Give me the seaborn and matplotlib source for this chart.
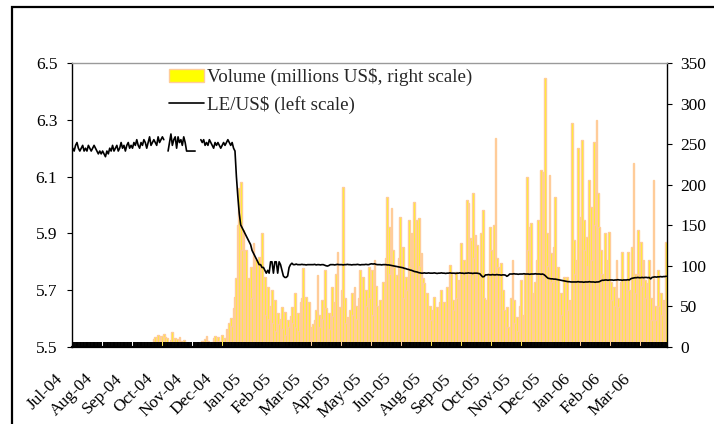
import matplotlib
matplotlib.use("Agg")
import numpy as np
import pandas as pd
import matplotlib.pyplot as plt
import matplotlib.transforms as mtransforms
from matplotlib.patches import Patch, Rectangle
from matplotlib.lines import Line2D
import seaborn as sns

nan = float("nan")

# --- Data: one block of 21 trading days per axis label ---
MONTH_LABELS = ["Jul-04", "Aug-04", "Sep-04", "Oct-04", "Nov-04", "Dec-04",
                "Jan-05", "Feb-05", "Mar-05", "Apr-05", "May-05", "Jun-05",
                "Aug-05", "Sep-05", "Oct-05", "Nov-05", "Dec-05", "Jan-06",
                "Feb-06", "Mar-06"]
DAYS_PER_LABEL = 21

# daily volume, millions US$ (right scale)
vol_jul04 = [0, 0, 0, 0, 0, 0, 0, 0, 0, 0, 0, 0, 0, 0, 0, 0, 0, 0, 0, 0, 0]
vol_aug04 = [0, 0, 0, 0, 0, 0, 0, 0, 0, 0, 0, 0, 0, 0, 0, 0, 0, 0, 0, 0, 0]
vol_sep04 = [0, 0, 0, 0, 0, 0, 0, 0, 0, 0, 0, 0, 0, 5, 0, 10, 12, 8, 15, 14, 6]
vol_oct04 = [13, 16, 12, 11, 4, 0, 9, 18, 8, 11, 10, 6, 12, 8, 5, 9, 4, 0, 0, 0, 0]
vol_nov04 = [0, 0, 0, 0, 0, 0, 3, 8, 5, 10, 13, 7, 4, 0, 6, 11, 14, 9, 12, 7, 5]
vol_dec04 = [15, 4, 11, 22, 18, 30, 36, 26, 48, 62, 85, 150, 196, 203, 120, 144, 90, 120, 70, 85, 99]
vol_jan05 = [60, 128, 75, 107, 80, 111, 65, 140, 55, 86, 40, 74, 35, 50, 70, 30, 58, 20, 42, 28, 35]
vol_feb05 = [49, 22, 43, 15, 33, 25, 38, 49, 30, 67, 25, 42, 20, 55, 60, 97, 45, 62, 30, 55, 25]
vol_mar05 = [18, 28, 33, 45, 89, 40, 25, 58, 35, 95, 48, 30, 42, 22, 74, 38, 55, 90, 117, 45, 49]
vol_apr05 = [70, 197, 60, 30, 37, 20, 45, 67, 40, 74, 50, 35, 60, 95, 55, 86, 45, 70, 50, 99, 60]
vol_may05 = [95, 40, 107, 75, 50, 30, 58, 45, 80, 60, 110, 185, 148, 90, 171, 120, 99, 70, 89, 110, 160]
vol_jun05 = [95, 123, 60, 86, 70, 157, 100, 140, 120, 179, 130, 157, 159, 100, 116, 85, 79, 55, 67, 40, 50]
vol_aug05 = [33, 45, 62, 35, 49, 30, 55, 70, 40, 55, 30, 74, 50, 101, 91, 58, 46, 93, 60, 83, 70]
vol_sep05 = [128, 90, 107, 104, 181, 178, 134, 132, 190, 110, 138, 126, 91, 70, 140, 169, 60, 42, 58, 90, 148]
vol_oct05 = [120, 80, 150, 258, 110, 99, 60, 104, 70, 46, 30, 49, 25, 15, 60, 107, 58, 30, 37, 20, 50]
vol_nov05 = [83, 40, 37, 90, 210, 120, 148, 153, 67, 45, 80, 107, 157, 90, 218, 216, 120, 332, 140, 100, 212]
vol_dec05 = [116, 80, 123, 185, 90, 99, 50, 67, 40, 86, 0, 86, 45, 58, 40, 276, 132, 90, 107, 245, 123]
vol_jan06 = [160, 255, 157, 120, 136, 100, 206, 173, 107, 253, 150, 280, 190, 148, 120, 90, 86, 140, 70, 107, 142]
vol_feb06 = [80, 58, 74, 50, 107, 60, 49, 80, 117, 60, 83, 50, 117, 70, 45, 123, 227, 90, 67, 144, 90]
vol_mar06 = [130, 75, 107, 83, 60, 79, 107, 60, 33, 206, 50, 33, 95, 50, 67, 40, 58, 30, 130]

# LE/US$ exchange rate (left scale), nan = no quote
rate_jul04 = [6.20, 6.19, 6.21, 6.22, 6.20, 6.19, 6.20, 6.21, 6.19, 6.20, 6.19, 6.21, 6.20, 6.19, 6.20, 6.21, 6.20, 6.19, 6.18, 6.19, 6.18]
rate_aug04 = [6.19, 6.18, 6.17, 6.19, 6.18, 6.20, 6.19, 6.21, 6.19, 6.20, 6.21, 6.19, 6.20, 6.22, 6.20, 6.21, 6.19, 6.21, 6.22, 6.20, 6.21]
rate_sep04 = [6.20, 6.22, 6.21, 6.23, 6.21, 6.20, 6.22, 6.21, 6.23, 6.22, 6.20, 6.22, 6.24, 6.21, 6.22, 6.23, 6.22, 6.21, 6.24, 6.22, 6.23]
rate_oct04 = [6.24, 6.23, nan, nan, 6.19, 6.22, 6.25, 6.21, 6.23, 6.24, 6.20, 6.24, 6.22, 6.23, 6.21, 6.24, 6.22, 6.19, 6.19, 6.19, 6.19]
rate_nov04 = [6.19, 6.19, 6.19, nan, nan, nan, 6.23, 6.22, 6.23, 6.21, 6.22, 6.21, 6.23, 6.22, 6.21, 6.20, 6.22, 6.21, 6.22, 6.21, 6.20]
rate_dec04 = [6.21, 6.22, 6.21, 6.22, 6.23, 6.22, 6.21, 6.22, 6.20, 6.19, 6.10, 6.03, 5.97, 5.93, 5.92, 5.91, 5.90, 5.89, 5.88, 5.87, 5.86]
rate_jan05 = [5.84, 5.83, 5.82, 5.81, 5.80, 5.79, 5.79, 5.78, 5.78, 5.77, 5.76, 5.77, 5.76, 5.80, 5.80, 5.76, 5.80, 5.80, 5.76, 5.80, 5.79]
rate_feb05 = [5.77, 5.75, 5.745, 5.745, 5.75, 5.78, 5.79, 5.795, 5.79, 5.79, 5.792, 5.79, 5.79, 5.79, 5.791, 5.79, 5.79, 5.789, 5.79, 5.79, 5.79]
rate_mar05 = [5.79, 5.79, 5.791, 5.789, 5.79, 5.79, 5.789, 5.79, 5.79, 5.788, 5.786, 5.785, 5.787, 5.79, 5.79, 5.79, 5.789, 5.79, 5.791, 5.79, 5.79]
rate_apr05 = [5.79, 5.789, 5.79, 5.79, 5.791, 5.79, 5.79, 5.789, 5.79, 5.79, 5.79, 5.791, 5.79, 5.789, 5.79, 5.79, 5.79, 5.791, 5.79, 5.79, 5.792]
rate_may05 = [5.793, 5.792, 5.793, 5.791, 5.79, 5.79, 5.79, 5.789, 5.79, 5.79, 5.79, 5.789, 5.789, 5.788, 5.787, 5.786, 5.785, 5.784, 5.783, 5.782, 5.781]
rate_jun05 = [5.78, 5.779, 5.777, 5.776, 5.774, 5.773, 5.771, 5.77, 5.768, 5.766, 5.765, 5.764, 5.762, 5.761, 5.76, 5.76, 5.761, 5.76, 5.76, 5.761, 5.76]
rate_aug05 = [5.76, 5.76, 5.761, 5.76, 5.759, 5.76, 5.76, 5.761, 5.76, 5.76, 5.759, 5.76, 5.76, 5.761, 5.76, 5.76, 5.76, 5.759, 5.76, 5.76, 5.761]
rate_sep05 = [5.76, 5.76, 5.759, 5.76, 5.76, 5.761, 5.76, 5.76, 5.759, 5.76, 5.76, 5.76, 5.759, 5.758, 5.752, 5.747, 5.748, 5.754, 5.754, 5.755, 5.754]
rate_oct05 = [5.754, 5.755, 5.754, 5.754, 5.755, 5.754, 5.754, 5.753, 5.754, 5.754, 5.753, 5.749, 5.752, 5.757, 5.757, 5.757, 5.758, 5.757, 5.757, 5.756, 5.757]
rate_nov05 = [5.757, 5.757, 5.758, 5.757, 5.757, 5.757, 5.756, 5.757, 5.757, 5.757, 5.758, 5.757, 5.757, 5.757, 5.756, 5.757, 5.755, 5.751, 5.746, 5.742, 5.741]
rate_dec05 = [5.74, 5.74, 5.739, 5.739, 5.738, 5.737, 5.736, 5.735, 5.734, 5.733, 5.732, 5.731, 5.73, 5.73, 5.729, 5.729, 5.729, 5.729, 5.729, 5.73, 5.729]
rate_jan06 = [5.729, 5.729, 5.728, 5.729, 5.729, 5.729, 5.73, 5.729, 5.729, 5.729, 5.728, 5.729, 5.729, 5.73, 5.733, 5.735, 5.735, 5.736, 5.736, 5.735, 5.736]
rate_feb06 = [5.736, 5.736, 5.735, 5.736, 5.736, 5.737, 5.736, 5.736, 5.735, 5.736, 5.736, 5.736, 5.737, 5.736, 5.74, 5.742, 5.743, 5.744, 5.744, 5.745, 5.744]
rate_mar06 = [5.744, 5.745, 5.744, 5.745, 5.745, 5.744, 5.745, 5.74, 5.745, 5.746, 5.747, 5.746, 5.747, 5.747, 5.748, 5.747, 5.748, 5.748, 5.749]

volume = (vol_jul04 + vol_aug04 + vol_sep04 + vol_oct04 + vol_nov04 + vol_dec04
          + vol_jan05 + vol_feb05 + vol_mar05 + vol_apr05 + vol_may05 + vol_jun05
          + vol_aug05 + vol_sep05 + vol_oct05 + vol_nov05 + vol_dec05
          + vol_jan06 + vol_feb06 + vol_mar06)
rate = (rate_jul04 + rate_aug04 + rate_sep04 + rate_oct04 + rate_nov04 + rate_dec04
        + rate_jan05 + rate_feb05 + rate_mar05 + rate_apr05 + rate_may05 + rate_jun05
        + rate_aug05 + rate_sep05 + rate_oct05 + rate_nov05 + rate_dec05
        + rate_jan06 + rate_feb06 + rate_mar06)

df = pd.DataFrame({"day": np.arange(len(volume)), "volume": volume, "rate": rate})
# split the rate line where quotes are missing so the gaps stay open
df["segment"] = df["rate"].isna().cumsum()
n_days = len(df)

# --- Style ---
sns.set_theme(style="white")
plt.rcParams["font.family"] = ["Liberation Serif", "DejaVu Serif"]
FS = 12.5
FS_LEG = 13.7
W, H = 714, 424

fig = plt.figure(figsize=(W / 100, H / 100), dpi=100)
ax = fig.add_axes([72 / W, 77 / H, 595 / W, 284 / H])

# volume bars (right scale); neighbours overlap a little so some yellow fill shows
sns.barplot(data=df, x="day", y="volume", native_scale=True, orient="x",
            width=1.3, color="#FFFF00", saturation=1, errorbar=None,
            edgecolor="#FFCC99", linewidth=1.0, ax=ax)
ax.set_axisbelow(False)  # the dense day ticks sit on top of the bars

ax2 = ax.twinx()
sns.lineplot(data=df.dropna(subset=["rate"]), x="day", y="rate", units="segment",
             estimator=None, color="black", linewidth=1.2, ax=ax2)

ax.set_xlim(-0.5, n_days - 0.5)
ax.set_ylim(0, 350)
ax2.set_ylim(5.5, 6.5)

# axes placement: volume on right, rate on left
ax.yaxis.tick_right()
ax2.yaxis.tick_left()
ax.set_yticks(np.arange(0, 351, 50))
ax2.set_yticks([5.5, 5.7, 5.9, 6.1, 6.3, 6.5])
ax2.set_yticklabels(["5.5", "5.7", "5.9", "6.1", "6.3", "6.5"])
for a in (ax, ax2):
    a.set_xlabel("")
    a.set_ylabel("")
    a.grid(False)

ax.tick_params(axis="y", direction="out", length=3.6, width=0.8, pad=6,
               labelsize=FS, colors="black", right=True, left=False)
ax2.tick_params(axis="y", direction="out", length=3.6, width=0.8, pad=7,
                labelsize=FS, colors="black", left=True, right=False)

# category axis: tick at every day, label every 21 days
label_pos = np.arange(len(MONTH_LABELS)) * DAYS_PER_LABEL
ax.set_xticks(label_pos)
ax.set_xticklabels(MONTH_LABELS, rotation=45, ha="right", rotation_mode="anchor")
ax.set_xticks(np.arange(n_days), minor=True)
ax.tick_params(axis="x", which="major", length=0, pad=17, labelsize=FS,
               labelcolor="black", bottom=True)
ax.tick_params(axis="x", which="minor", direction="in", length=3.8,
               width=1.4, color="black", bottom=True)
offset = mtransforms.ScaledTranslation(-18 / 100, 0, fig.dpi_scale_trans)
for lbl in ax.get_xticklabels():
    lbl.set_transform(lbl.get_transform() + offset)

for s in ax.spines.values():
    s.set_visible(False)
for side in ("left", "right", "bottom"):
    ax2.spines[side].set_visible(True)
    ax2.spines[side].set_color("black")
    ax2.spines[side].set_linewidth(1.0)
ax2.spines["bottom"].set_linewidth(1.6)
ax2.spines["top"].set_color("#9A9A9A")
ax2.spines["top"].set_linewidth(1.0)

# legend
handles = [Patch(facecolor="#FFFF00", edgecolor="#FFCC99", linewidth=1.0),
           Line2D([], [], color="black", linewidth=1.2)]
labels = ["Volume (millions US$, right scale)", "LE/US$ (left scale)"]
ax2.legend(handles, labels, loc="upper left", bbox_to_anchor=(169 / W, 1 - 68 / H),
           bbox_transform=fig.transFigure, frameon=False, fontsize=FS_LEG,
           handlelength=1.85, handletextpad=0.15, labelspacing=0.5, borderpad=0,
           borderaxespad=0)

# chart-area border (runs past the right and bottom edges of the picture)
fig.add_artist(Rectangle((12 / W, -0.5), 2.0, 1 - 7 / H + 0.5,
                         transform=fig.transFigure, fill=False,
                         edgecolor="black", linewidth=1.6, clip_on=False))

fig.savefig("out.png", dpi=100)
